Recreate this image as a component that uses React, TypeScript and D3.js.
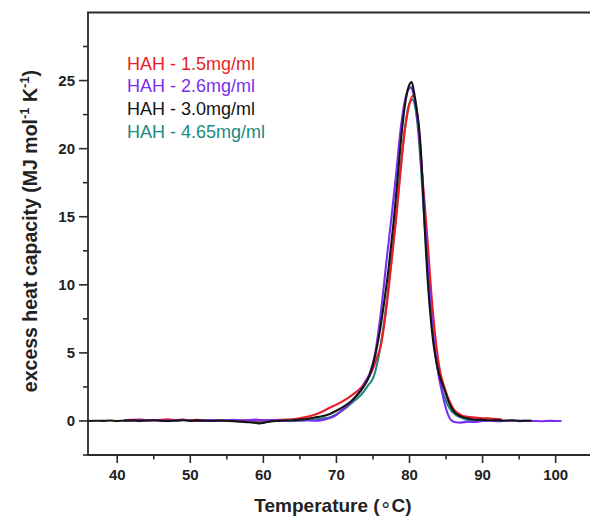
import React from "react";
import * as d3 from "d3";

const W = 590;
const H = 518;

const xTicks = [40, 50, 60, 70, 80, 90, 100];
const xMinorTicks = [45, 55, 65, 75, 85, 95];
const yTicks = [0, 5, 10, 15, 20, 25];
const yMinorTicks = [-2.5, 2.5, 7.5, 12.5, 17.5, 22.5, 27.5];

const legendLabels = ["HAH - 1.5mg/ml", "HAH - 2.6mg/ml", "HAH - 3.0mg/ml", "HAH - 4.65mg/ml"];
const colors = ["#ec1c24", "#7a2ff0", "#141414", "#1e8a82"];

const redT = [41,42,43,44,45,46,47,48,49,50,51,52,53,54,55,56,57,58,59,60,61,62,63,64,65,66,67,67.8,69,70,71.5,72.5,73.3,74,74.8,75.5,76.1,76.6,77.1,77.6,78.2,78.8,79.4,80,80.5,80.9,81.3,81.7,82.1,82.5,82.9,83.3,83.7,84.2,84.7,85.2,85.7,86.2,87,88,89,90,90.7,91.5,92.5];
const redY = [0.05,0.08,0.1,0.06,0.05,0.08,0.12,0.06,0.1,0.04,0.08,0.03,0.06,0.05,0.02,0.06,0.04,0.05,0.03,0.06,0.05,0.08,0.1,0.12,0.2,0.3,0.45,0.62,0.95,1.2,1.66,2.05,2.4,2.95,3.6,4.6,5.6,7.3,9.5,12.0,15.0,18.5,21.5,23.3,23.9,23.2,21.2,18.3,15.8,13.0,10.0,7.4,5.4,3.6,2.6,1.8,1.2,0.75,0.45,0.3,0.25,0.2,0.2,0.15,0.12];

const purpleT = [41,42,43,44,45,46,47,48,49,50,51,52,53,54,55,56,57,58,59,60,61,62,63,64,65,66,67,68,69,70,70.5,71.5,72.5,73.2,73.7,74.3,74.7,75.3,76,76.9,77.5,78.2,78.8,79.4,79.9,80.2,80.5,81,81.4,81.8,82.2,82.6,83,83.5,84,84.5,85,85.4,85.8,86.3,87,88,89,90,91,92,93,94,95,96,97,98,99,100,100.7];
const purpleY = [0.05,0.02,0.08,0.03,0.06,0.0,0.05,0.02,0.07,0.03,0.0,0.04,0.06,0.02,0.05,0.08,0.03,0.06,0.1,0.04,0.07,0.05,0.02,0.06,0.03,0.05,0.02,0.06,0.2,0.45,0.68,1.1,1.7,2.2,2.6,3.2,3.7,5.0,7.6,12.0,14.8,18.3,21.5,23.6,24.4,24.5,24.1,22.6,20.5,17.5,14.0,10.8,7.8,5.2,3.3,2.0,0.9,0.3,0.0,-0.1,-0.12,-0.05,-0.08,0.0,0.02,-0.02,0.0,0.03,-0.01,0.02,0.0,-0.02,0.01,0.0,0.0];

const blackT = [36,37,38,39,40,41,42,43,44,45,46,47,48,49,50,51,52,53,54,55,56,57,58,59,59.5,60,60.5,61,62,63,64,65,66,67,68,69,70,71,72,73,73.7,74.5,75.3,76,76.6,77.2,77.8,78.4,78.9,79.4,79.9,80.3,80.6,81,81.3,81.7,82,82.3,82.7,83,83.4,83.8,84.3,84.8,85.3,85.7,86.1,86.6,87.2,88,89,90,91,92,93,94,95,96.6];
const blackY = [0,0.02,0.01,0.03,0.0,0.02,0.04,0.01,0.03,0.05,0.02,0.0,0.03,0.05,0.01,0.04,0.02,0.0,0.03,0.01,-0.02,-0.05,-0.1,-0.15,-0.18,-0.14,-0.08,-0.03,0.0,0.03,0.05,0.1,0.15,0.25,0.35,0.5,0.75,1.05,1.45,2.0,2.5,3.3,4.8,6.8,9.0,11.5,14.5,18.0,21.0,23.3,24.6,24.9,24.2,22.8,21.6,18.5,15.0,12.0,8.8,7.0,5.2,4.0,3.0,2.3,1.5,1.0,0.68,0.45,0.3,0.18,0.1,0.08,0.05,0.06,0.03,0.04,0.02,0.02];

const tealT = [50,51,52,53,54,55,56,57,58,59,60,61,62,63,64,65,66,67,68,69.2,70.5,71.5,72.5,73.5,74.3,75.1,75.8,76.4,77,77.6,78.2,78.8,79.4,79.9,80.4,80.8,81.2,81.6,82,82.4,82.8,83.2,83.7,84.2,84.7,85.2,85.7,86.2,86.8,87.5,88.5,89.5,90.5];
const tealY = [0.03,0.05,0.01,0.04,0.06,0.02,0.0,-0.03,-0.06,-0.08,-0.05,-0.02,0.0,0.02,0.0,0.03,0.05,0.1,0.18,0.3,0.65,1.05,1.5,2.0,2.6,3.25,4.8,6.8,9.3,12.2,15.3,18.7,21.6,23.2,23.6,23.0,21.2,18.3,15.0,11.8,8.8,6.3,4.3,2.9,1.9,1.2,0.75,0.5,0.3,0.15,0.05,0.0,0.02];

const seriesT = [redT, purpleT, blackT, tealT];
const seriesY = [redY, purpleY, blackY, tealY];
const drawOrder = [3, 0, 1, 2];

export default function App() {
  const left = 88;
  const top = 12.5;
  const bottom = 455;
  const x = d3.scaleLinear().domain([36, 104.7]).range([left, W]);
  const y = d3.scaleLinear().domain([-2.5, 30]).range([bottom, top]);
  const line = d3
    .line<[number, number]>()
    .x((d) => x(d[0]))
    .y((d) => y(d[1]))
    .curve(d3.curveMonotoneX);

  const axisColor = "#2a2a2a";
  const font = "'Liberation Sans', Arial, sans-serif";

  return (
    <svg
      width={W}
      height={H}
      style={{ position: "absolute", left: 0, top: 0, background: "#fff" }}
      fontFamily={font}
    >
      <rect x={0} y={0} width={W} height={H} fill="#fff" />
      <g fill="none" strokeWidth={2.1} strokeLinejoin="round" strokeLinecap="round">
        {drawOrder.map((i) => {
          const pts = d3.zip(seriesT[i], seriesY[i]) as [number, number][];
          return <path key={i} d={line(pts) || ""} stroke={colors[i]} />;
        })}
      </g>
      <line x1={left} x2={left} y1={top} y2={bottom + 0.8} stroke={axisColor} strokeWidth={1.8} />
      <line x1={left} x2={W} y1={bottom} y2={bottom} stroke={axisColor} strokeWidth={1.8} />
      <line x1={left - 0.9} x2={W} y1={top} y2={top} stroke={axisColor} strokeWidth={1.8} />
      {xTicks.map((t) => (
        <g key={"xt" + t}>
          <line x1={x(t)} x2={x(t)} y1={bottom} y2={bottom + 8} stroke={axisColor} strokeWidth={1.6} />
          <text x={x(t)} y={480} textAnchor="middle" fontSize={15} fontWeight="bold" fill="#222">
            {t}
          </text>
        </g>
      ))}
      {xMinorTicks.map((t) => (
        <line key={"xm" + t} x1={x(t)} x2={x(t)} y1={bottom} y2={bottom + 4.5} stroke={axisColor} strokeWidth={1.6} />
      ))}
      {yTicks.map((t) => (
        <g key={"yt" + t}>
          <line x1={left - 9} x2={left} y1={y(t)} y2={y(t)} stroke={axisColor} strokeWidth={1.6} />
          <text x={75} y={y(t)} dy="0.36em" textAnchor="end" fontSize={15} fontWeight="bold" fill="#222">
            {t}
          </text>
        </g>
      ))}
      {yMinorTicks.map((t) => (
        <line key={"ym" + t} x1={left - 5} x2={left} y1={y(t)} y2={y(t)} stroke={axisColor} strokeWidth={1.6} />
      ))}
      {legendLabels.map((lab, i) => (
        <text key={lab} x={127} y={69.5 + i * 22.7} fontSize={18} fill={colors[i]}>
          {lab}
        </text>
      ))}
      <text x={333} y={512} textAnchor="middle" fontSize={19} fontWeight="bold" fill="#222">
        Temperature (<tspan fontFamily="'DejaVu Sans', sans-serif" fontWeight="normal" fontSize={19} dy={-1}>∘</tspan>
        <tspan dy={1}>C)</tspan>
      </text>
      <text
        transform="translate(37,231) rotate(-90)"
        textAnchor="middle"
        fontSize={19.5}
        fontWeight="bold"
        fill="#222"
      >
        excess heat capacity (MJ mol
        <tspan fontSize={13} dy={-8}>-1</tspan>
        <tspan dy={8}> K</tspan>
        <tspan fontSize={13} dy={-8}>-1</tspan>
        <tspan dy={8}>)</tspan>
      </text>
    </svg>
  );
}
